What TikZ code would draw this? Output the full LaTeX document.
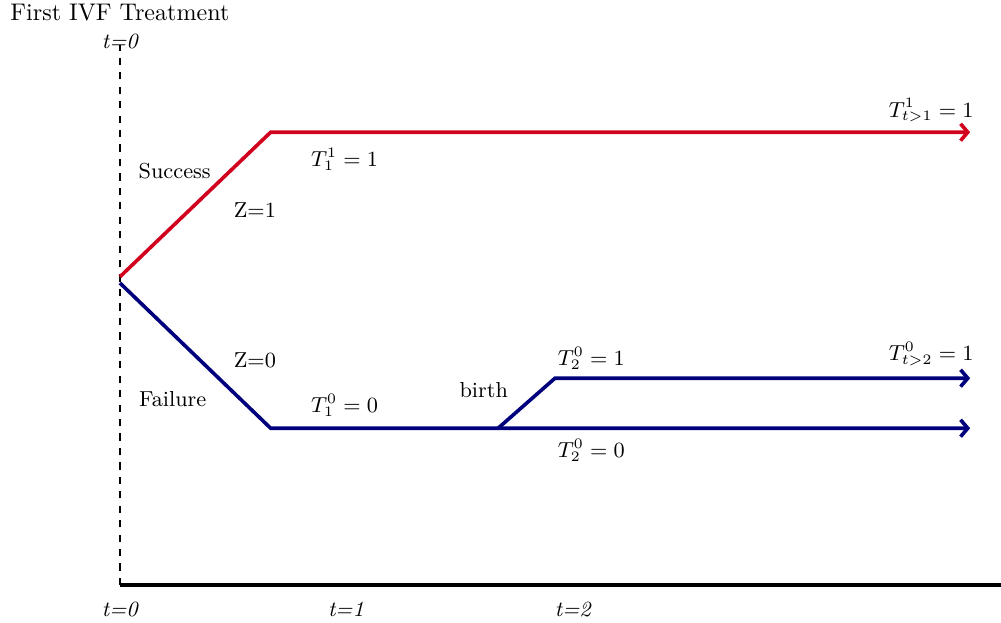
\documentclass[tikz,border=0pt]{standalone}
\usepackage{amsmath,amssymb}
\usepackage{xcolor}
\usepackage{tikz}
\usetikzlibrary{positioning, arrows.meta, calc}

\definecolor{succred}{RGB}{208,2,30}
\definecolor{failblue}{RGB}{0,0,125}

\begin{document}
\begin{tikzpicture}[
    every node/.style={font=\small},
    success/.style={succred, line width=1.5pt},
    failure/.style={failblue, line width=1.5pt},
    timelbl/.style={font=\small\itshape},
    >={Straight Barb[length=3pt, width=7pt]}
]
\useasboundingbox (-1.75,-0.54) rectangle (12.86,8.54);

% time axis
\coordinate (o) at (0,0);
\coordinate (top) at (0,7.88);
\coordinate (xend) at (12.9,0);
\draw[thick, dashed] (o) -- (top);
\draw[line width=1.7pt] (o) -- (xend);

\node[timelbl] (t0top) at (0,7.93) {t=0};
\node[font=\normalsize] (title) at (0,8.35) {First IVF Treatment};
\node[timelbl] (t0) at (0,-0.36) {t=0};
\node[timelbl] (t1) at (3.30,-0.36) {t=1};
\node[timelbl] (t2) at (6.61,-0.36) {t=2};

% branch points
\coordinate (s0) at (0,4.50);
\coordinate (f0) at (0,4.41);
\coordinate (s1) at (2.20,6.61);
\coordinate (s2) at (12.41,6.61);
\coordinate (f1) at (2.20,2.29);
\coordinate (b) at (5.52,2.29);
\coordinate (f2) at (12.41,2.29);
\coordinate (b1) at (6.35,3.02);
\coordinate (b2) at (12.41,3.02);

% paths
\draw[success, ->] (s0) -- (s1) -- (s2);
\draw[failure, ->] (f0) -- (f1) -- (f2);
\draw[failure, ->] (b) -- (b1) -- (b2);

% labels
\node (succ) at (0.80,6.04) {Success};
\node (z1) at (1.97,5.47) {Z=1};
\node (z0) at (1.97,3.28) {Z=0};
\node (fail) at (0.77,2.72) {Failure};
\node (birth) at (5.31,2.85) {birth};
\node (T11) at (3.28,6.22) {$T_1^1=1$};
\node (T1t) at (11.84,6.93) {$T_{t>1}^1=1$};
\node (T10) at (3.28,2.63) {$T_1^0=0$};
\node (T21) at (6.88,3.31) {$T_2^0=1$};
\node (T20) at (6.88,1.97) {$T_2^0=0$};
\node (T2t) at (11.84,3.37) {$T_{t>2}^0=1$};

\end{tikzpicture}
\end{document}
